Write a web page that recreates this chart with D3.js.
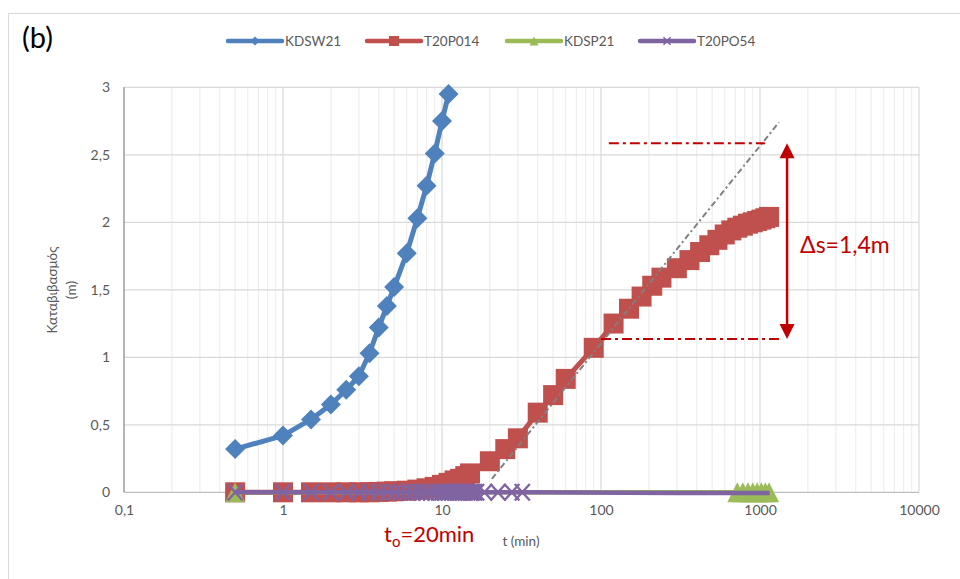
<!DOCTYPE html>
<html lang="el">
<head>
	<meta charset="UTF-8">
	<title>Καταβιβασμός - t (min)</title>

	<script src="https://cdn.jsdelivr.net/npm/d3@7/dist/d3.min.js"></script>

	<style>
		body {
			margin: 0;
			background: #fff;
		}

		text {
			font-family: Lato, "Open Sans", sans-serif;
		}

		.axis path,
		.axis line {
			stroke: transparent;
			fill: none;
		}

		.axis text {
			fill: #595959;
			font-size: 14px;
			font-family: Lato, "Open Sans", sans-serif;
		}

		.grid-major {
			stroke: #d9d9d9;
			stroke-width: 1.2;
		}

		.grid-minor {
			stroke: #eeeeee;
			stroke-width: 1.2;
		}

		.legend text {
			fill: #595959;
			font-size: 13.5px;
		}

		.note {
			fill: #c00000;
		}
	</style>
</head>
<body>
	<div id="container"></div>
	<script>
		// ---- data ----
		var seriesNames = ["KDSW21", "T20P014", "KDSP21", "T20PO54"];
		var seriesColors = ["#4f81bd", "#c0504d", "#9bbb59", "#8064a2"];

		// KDSW21
		var kdsw21T = [0.5, 1, 1.5, 2, 2.5, 3, 3.5, 4, 4.5, 5, 6, 7, 8, 9, 10, 11];
		var kdsw21S = [0.32, 0.42, 0.54, 0.65, 0.76, 0.86, 1.03, 1.22, 1.38, 1.52, 1.77, 2.03, 2.27, 2.51, 2.75, 2.95];

		// T20P014
		var t20p014T = [0.5, 1, 1.5, 2, 2.5, 3, 3.5, 4, 4.5, 5, 6, 7, 8, 9, 10, 11, 12, 13, 14, 15,
			20, 25, 30, 40, 50, 60, 90, 120, 150, 180, 210, 240, 300, 360, 420, 480, 540, 600,
			660, 720, 780, 840, 900, 960, 1020, 1080, 1140];
		var t20p014S = [0, 0, 0, 0, 0, 0, 0, 0.003, 0.005, 0.008, 0.012, 0.02, 0.03, 0.04, 0.055, 0.07, 0.088, 0.1, 0.12, 0.14,
			0.23, 0.32, 0.4, 0.59, 0.72, 0.84, 1.07, 1.25, 1.36, 1.45, 1.53, 1.59, 1.66, 1.72, 1.78, 1.83, 1.87, 1.91,
			1.94, 1.96, 1.975, 1.99, 2.0, 2.01, 2.02, 2.03, 2.04];

		// KDSP21
		var kdsp21T = [0.5, 720, 780, 840, 900, 960, 1020, 1080, 1140];
		var kdsp21S = [0, 0, 0, 0, 0, 0, 0, 0, 0];

		// T20PO54 (markers), then the line runs on to the last reading
		var t20po54T = [0.5, 1, 1.5, 2, 2.5, 3, 3.5, 4, 4.5, 5, 5.5, 6, 6.5, 7, 7.5, 8, 8.5, 9, 9.5, 10,
			10.5, 11, 11.5, 12, 12.5, 13, 13.5, 14, 14.5, 15, 15.5, 16, 16.5, 18.5, 22.5, 27.5, 32];
		var t20po54S = [0, 0, 0, 0, 0, 0, 0, 0, 0, 0, 0, 0, 0, 0, 0, 0, 0, 0, 0, 0,
			0, 0, 0, 0, 0, 0, 0, 0, 0, 0, 0, 0, 0, 0, 0, 0, 0];
		var t20po54TailT = [32, 300, 1150];
		var t20po54TailS = [0, -0.006, -0.006];

		// Jacob straight line and the Δs construction
		var trendT = [20.6, 1315];
		var trendS = [0.1, 2.74];
		var deltaTopT = [112, 1074];
		var deltaTopS = 2.585;
		var deltaBotT = [100, 1315];
		var deltaBotS = 1.136;
		var arrowT = 1480;

		var xTicks = [0.1, 1, 10, 100, 1000, 10000];
		var xTickLabels = ["0,1", "1", "10", "100", "1000", "10000"];
		var yTicks = [0, 0.5, 1, 1.5, 2, 2.5, 3];
		var yTickLabels = ["0", "0,5", "1", "1,5", "2", "2,5", "3"];

		// ---- layout ----
		var width = 960, height = 579;
		var svg = d3.select("#container").append("svg")
			.attr("width", width)
			.attr("height", height);

		// chart frame
		svg.append("rect")
			.attr("x", 8.5).attr("y", 13.5)
			.attr("width", 1000).attr("height", 700)
			.attr("fill", "none")
			.attr("stroke", "#d9d9d9");

		var x = d3.scaleLog().domain([0.1, 10000]).range([124, 919]);
		var y = d3.scaleLinear().domain([0, 3]).range([492.3, 87.3]);

		// gridlines
		var minorX = x.ticks().filter(function(d) { return xTicks.indexOf(d) < 0; });
		svg.append("g").selectAll("line").data(minorX)
			.enter().append("line")
				.attr("class", "grid-minor")
				.attr("x1", function(d) { return x(d); })
				.attr("x2", function(d) { return x(d); })
				.attr("y1", y(3)).attr("y2", y(0));

		svg.append("g").selectAll("line").data(xTicks.slice(1))
			.enter().append("line")
				.attr("class", "grid-major")
				.attr("x1", function(d) { return x(d); })
				.attr("x2", function(d) { return x(d); })
				.attr("y1", y(3)).attr("y2", y(0));

		svg.append("g").selectAll("line").data(yTicks.slice(1))
			.enter().append("line")
				.attr("class", "grid-major")
				.attr("x1", x(0.1)).attr("x2", x(10000))
				.attr("y1", function(d) { return y(d); })
				.attr("y2", function(d) { return y(d); });

		// axis lines
		svg.append("line")
			.attr("x1", x(0.1)).attr("x2", x(10000))
			.attr("y1", y(0)).attr("y2", y(0))
			.attr("stroke", "#bfbfbf").attr("stroke-width", 1.3);
		svg.append("line")
			.attr("x1", x(0.1)).attr("x2", x(0.1))
			.attr("y1", y(3)).attr("y2", y(0))
			.attr("stroke", "#8c8c8c").attr("stroke-width", 1.3);

		// tick labels
		var xAxis = d3.axisBottom(x).tickValues(xTicks).tickSize(0).tickPadding(13)
			.tickFormat(function(d, i) { return xTickLabels[i]; });
		svg.append("g").attr("class", "axis")
			.attr("transform", "translate(0," + y(0) + ")")
			.call(xAxis);

		var yAxis = d3.axisLeft(y).tickValues(yTicks).tickSize(0).tickPadding(14)
			.tickFormat(function(d, i) { return yTickLabels[i]; });
		svg.append("g").attr("class", "axis")
			.attr("transform", "translate(" + x(0.1) + ",0)")
			.call(yAxis);

		// axis titles
		svg.append("text")
			.attr("x", 521).attr("y", 546)
			.attr("text-anchor", "middle")
			.attr("fill", "#595959")
			.style("font-size", "13.5px")
			.text("t (min)");

		var yTitle = svg.append("text")
			.attr("transform", "translate(57,290) rotate(-90)")
			.attr("text-anchor", "middle")
			.attr("fill", "#595959")
			.style("font-size", "13.5px");
		yTitle.append("tspan").attr("x", 0).attr("y", 0).text("Καταβιβασμός");
		yTitle.append("tspan").attr("x", 0).attr("y", 19).text("(m)");

		// ---- series ----
		function zipTS(ts, ss) {
			return ts.map(function(t, i) { return [t, ss[i]]; });
		}

		var line = d3.line()
			.x(function(d) { return x(d[0]); })
			.y(function(d) { return y(d[1]); });

		var markerPath = {
			diamond: function(r) { return "M0," + (-r) + "L" + r + ",0L0," + r + "L" + (-r) + ",0Z"; },
			square: function(r) { return "M" + (-r) + "," + (-r) + "H" + r + "V" + r + "H" + (-r) + "Z"; },
			triangle: function(r) { return "M0," + (-r) + "L" + r + "," + r + "L" + (-r) + "," + r + "Z"; },
			cross: function(r) { return "M" + (-r) + "," + (-r * 1.1) + "L" + r + "," + (r * 1.1) + "M" + (-r) + "," + (r * 1.1) + "L" + r + "," + (-r * 1.1); }
		};

		function drawSeries(pts, color, lw, shape, r, tail) {
			var g = svg.append("g");
			var lpts = tail ? pts.concat(tail) : pts;
			g.append("path")
				.attr("d", line(lpts))
				.attr("fill", "none")
				.attr("stroke", color)
				.attr("stroke-width", lw)
				.attr("stroke-linejoin", "round");
			g.selectAll(".mk").data(pts)
				.enter().append("path")
					.attr("class", "mk")
					.attr("transform", function(d) { return "translate(" + x(d[0]) + "," + y(d[1]) + ")"; })
					.attr("d", markerPath[shape](r))
					.attr("fill", shape == "cross" ? "none" : color)
					.attr("stroke", color)
					.attr("stroke-width", shape == "cross" ? 2.4 : 0);
			return g;
		}

		drawSeries(zipTS(kdsw21T, kdsw21S), seriesColors[0], 5, "diamond", 10);
		drawSeries(zipTS(t20p014T, t20p014S), seriesColors[1], 5, "square", 10);
		drawSeries(zipTS(kdsp21T, kdsp21S), seriesColors[2], 4.5, "triangle", 10);
		drawSeries(zipTS(t20po54T, t20po54S), seriesColors[3], 4.5, "cross", 7.5,
			zipTS(t20po54TailT, t20po54TailS));

		// ---- annotations ----
		svg.append("path")
			.attr("d", line(zipTS(trendT, trendS)))
			.attr("fill", "none")
			.attr("stroke", "#808080")
			.attr("stroke-width", 2)
			.attr("stroke-dasharray", "6,3,2,3");

		svg.append("line")
			.attr("x1", x(deltaTopT[0])).attr("x2", x(deltaTopT[1]))
			.attr("y1", y(deltaTopS)).attr("y2", y(deltaTopS))
			.attr("stroke", "#c00000").attr("stroke-width", 2)
			.attr("stroke-dasharray", "10,4,3,4");
		svg.append("line")
			.attr("x1", x(deltaBotT[0])).attr("x2", x(deltaBotT[1]))
			.attr("y1", y(deltaBotS)).attr("y2", y(deltaBotS))
			.attr("stroke", "#c00000").attr("stroke-width", 2)
			.attr("stroke-dasharray", "10,4,3,4");

		var ax = x(arrowT), ay1 = y(deltaTopS), ay2 = y(deltaBotS);
		svg.append("line")
			.attr("x1", ax).attr("x2", ax)
			.attr("y1", ay1 + 12).attr("y2", ay2 - 12)
			.attr("stroke", "#c00000").attr("stroke-width", 2.5);
		svg.append("path")
			.attr("d", "M" + ax + "," + ay1 + "l7.5,15h-15Z")
			.attr("fill", "#c00000");
		svg.append("path")
			.attr("d", "M" + ax + "," + ay2 + "l7.5,-15h-15Z")
			.attr("fill", "#c00000");

		svg.append("text")
			.attr("class", "note")
			.attr("x", ax + 13).attr("y", 253)
			.style("font-size", "23px")
			.text("Δs=1,4m");

		var t0 = svg.append("text")
			.attr("class", "note")
			.attr("x", 384).attr("y", 542)
			.style("font-size", "22px");
		t0.append("tspan").text("t");
		t0.append("tspan").attr("dy", 5).style("font-size", "15px").text("o");
		t0.append("tspan").attr("dy", -5).text("=20min");

		svg.append("text")
			.attr("x", 22).attr("y", 48)
			.attr("fill", "#000")
			.style("font-size", "29px")
			.text("(b)");

		// ---- legend ----
		var legendX = [228, 367, 507, 640];
		var legendShapes = ["diamond", "square", "triangle", "cross"];
		var legendR = [4.5, 5, 4.5, 3.5];
		var legend = svg.append("g").attr("class", "legend");
		seriesNames.forEach(function(name, i) {
			var g = legend.append("g").attr("transform", "translate(" + legendX[i] + ",41)");
			g.append("line")
				.attr("x1", 0).attr("x2", 54)
				.attr("stroke", seriesColors[i])
				.attr("stroke-width", 4.5)
				.attr("stroke-linecap", "round");
			g.append("path")
				.attr("transform", "translate(27,0)")
				.attr("d", markerPath[legendShapes[i]](legendR[i]))
				.attr("fill", legendShapes[i] == "cross" ? "none" : seriesColors[i])
				.attr("stroke", seriesColors[i])
				.attr("stroke-width", legendShapes[i] == "cross" ? 1.5 : 0);
			g.append("text")
				.attr("x", 57).attr("y", 5)
				.text(name);
		});
	</script>
</body>
</html>
